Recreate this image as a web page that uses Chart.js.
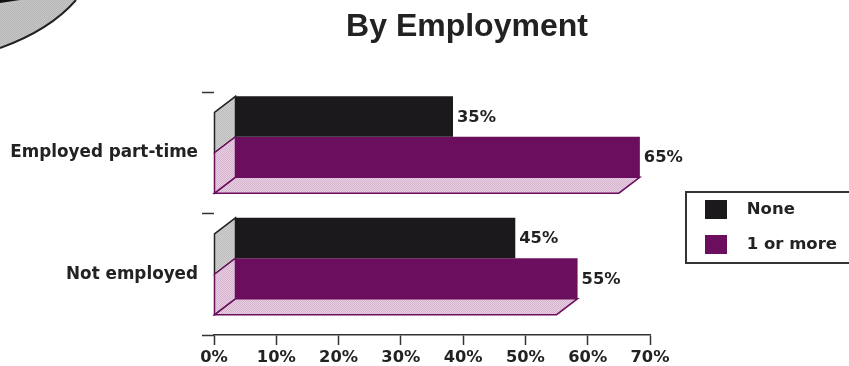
<!DOCTYPE html>
<html>
<head>
<meta charset="utf-8">
<title>By Employment</title>
<script src="https://cdn.jsdelivr.net/npm/chart.js@4/dist/chart.umd.min.js"></script>
<style>
  html, body { margin: 0; padding: 0; background: #fff; overflow: hidden; }
  canvas { display: block; }
</style>
</head>
<body>
<canvas id="chart" width="849" height="366"></canvas>
<script>
const categories = ['Employed part-time', 'Not employed'];
const noneValues = [35, 45];
const oneOrMoreValues = [65, 55];
const seriesNames = ['None', '1 or more'];

const depthX = 21;
const depthY = 16;
const labelFont = 'DejaVu Sans';
const textColor = '#222';
const purple = '#6b0e5e';
const black = '#1b191b';

// small 2x2 tile for the dotted print look of the side faces
function dotted(a, b) {
  const tile = document.createElement('canvas');
  tile.width = tile.height = 2;
  const c = tile.getContext('2d');
  c.fillStyle = a;
  c.fillRect(0, 0, 2, 2);
  c.fillStyle = b;
  c.fillRect(0, 0, 1, 1);
  c.fillRect(1, 1, 1, 1);
  return c.createPattern(tile, 'repeat');
}

function face(ctx, pts, fill, stroke) {
  ctx.beginPath();
  pts.forEach((p, i) => i ? ctx.lineTo(p[0], p[1]) : ctx.moveTo(p[0], p[1]));
  ctx.closePath();
  ctx.fillStyle = fill;
  ctx.fill();
  ctx.lineWidth = 1.5;
  ctx.strokeStyle = stroke;
  ctx.stroke();
}

const sideGrey = dotted('#d0d0d0', '#bcbcbc');
const sidePink = dotted('#e8d0e3', '#d6b2cf');

const bars3d = {
  id: 'bars3d',
  beforeLayout(chart) {
    // legend column takes everything right of the plot
    const legend = chart.legend;
    if (!legend.fitWrapped) {
      const fit = legend.fit;
      legend.fit = function () {
        fit.call(this);
        this.width = 199;
      };
      legend.fitWrapped = true;
    }
  },
  afterLayout(chart) {
    chart.titleBlock.left += 42.5;
    chart.titleBlock.right += 42.5;
    chart.legend.left += 39;
    chart.legend.right += 39;
    chart.legend.top += 44;
    chart.legend.bottom += 44;
  },
  beforeDraw(chart) {
    // edge of the pie from the panel above
    const ctx = chart.ctx;
    ctx.save();
    ctx.beginPath();
    ctx.moveTo(0, 48);
    ctx.quadraticCurveTo(50, 30, 76, 0);
    ctx.lineTo(0, 0);
    ctx.closePath();
    ctx.fillStyle = dotted('#c8c8c8', '#b4b4b4');
    ctx.fill();
    ctx.beginPath();
    ctx.moveTo(0, 48);
    ctx.quadraticCurveTo(50, 30, 76, 0);
    ctx.lineWidth = 2;
    ctx.strokeStyle = '#222';
    ctx.stroke();
    ctx.fillStyle = '#111';
    ctx.beginPath();
    ctx.moveTo(0, 0);
    ctx.lineTo(20, 0);
    ctx.lineTo(0, 3);
    ctx.closePath();
    ctx.fill();
    ctx.restore();
  },
  beforeDatasetsDraw(chart) {
    const ctx = chart.ctx;
    ctx.save();
    chart.data.datasets.forEach((ds, i) => {
      chart.getDatasetMeta(i).data.forEach(bar => {
        const top = bar.y - bar.height / 2;
        const bottom = bar.y + bar.height / 2;
        const fill = i === 0 ? sideGrey : sidePink;
        const edge = i === 0 ? '#222' : purple;
        if (i === 1) {
          face(ctx, [[bar.base, bottom], [bar.base + depthX, bottom - depthY],
            [bar.x + depthX, bottom - depthY], [bar.x, bottom]], sidePink, purple);
        }
        face(ctx, [[bar.base, top], [bar.base + depthX, top - depthY],
          [bar.base + depthX, bottom - depthY], [bar.base, bottom]], fill, edge);
      });
    });
    ctx.restore();
  },
  beforeDatasetDraw(chart) {
    chart.ctx.save();
    chart.ctx.translate(depthX, -depthY);
  },
  afterDatasetDraw(chart) {
    chart.ctx.restore();
  },
  afterDatasetsDraw(chart) {
    const ctx = chart.ctx;
    ctx.save();
    ctx.font = 'bold 16.3px "' + labelFont + '"';
    ctx.fillStyle = textColor;
    ctx.textBaseline = 'middle';
    chart.data.datasets.forEach((ds, i) => {
      chart.getDatasetMeta(i).data.forEach((bar, j) => {
        ctx.fillText(ds.data[j] + '%', bar.x + depthX + 4, bar.y - depthY + 1);
      });
    });
    ctx.restore();
  },
  afterDraw(chart) {
    // frame round the legend, runs off the right edge like the scan
    const ctx = chart.ctx;
    ctx.save();
    ctx.lineWidth = 2;
    ctx.strokeStyle = '#333';
    ctx.strokeRect(686, 192, 180, 71);
    ctx.restore();
  }
};

new Chart(document.getElementById('chart'), {
  type: 'bar',
  data: {
    labels: categories,
    datasets: [
      { label: seriesNames[0], data: noneValues, backgroundColor: black, borderColor: black, clip: false },
      { label: seriesNames[1], data: oneOrMoreValues, backgroundColor: purple, borderColor: purple, clip: false }
    ]
  },
  options: {
    indexAxis: 'y',
    responsive: false,
    animation: false,
    categoryPercentage: 0.665,
    barPercentage: 1,
    layout: { padding: 0 },
    scales: {
      x: {
        min: 0,
        max: 70,
        ticks: {
          stepSize: 10,
          maxRotation: 0,
          padding: 5,
          color: textColor,
          font: { family: labelFont, size: 16.3, weight: 'bold', lineHeight: 1 },
          callback: v => v + '%'
        },
        grid: { drawOnChartArea: false, drawTicks: true, tickLength: 10, color: '#333', tickWidth: 1.5 },
        border: { display: true, color: '#333', width: 1.5 },
        afterFit(scale) { scale.height = 31; }
      },
      y: {
        ticks: {
          padding: 4,
          color: textColor,
          font: { family: labelFont, size: 16.8, weight: 'bold' }
        },
        grid: { offset: true, drawOnChartArea: false, drawTicks: true, tickLength: 12, color: '#333', tickWidth: 1.5 },
        border: { display: false },
        afterFit(scale) { scale.width = 214; }
      }
    },
    plugins: {
      title: {
        display: true,
        text: 'By Employment',
        color: '#222',
        font: { family: 'Liberation Sans', size: 32, weight: 'bold', lineHeight: 1.2 },
        padding: { top: 8, bottom: 45.6 }
      },
      legend: {
        position: 'right',
        labels: {
          boxWidth: 22,
          boxHeight: 19,
          padding: 16,
          color: textColor,
          font: { family: labelFont, size: 16.5, weight: 'bold' },
          // swatch-to-text gap in the original is wider than Chart.js allows
          generateLabels(chart) {
            return Chart.defaults.plugins.legend.labels.generateLabels(chart)
              .map(item => ({ ...item, text: '\u00a0\u00a0' + item.text }));
          }
        }
      },
      tooltip: { enabled: false }
    }
  },
  plugins: [bars3d]
});
</script>
</body>
</html>
